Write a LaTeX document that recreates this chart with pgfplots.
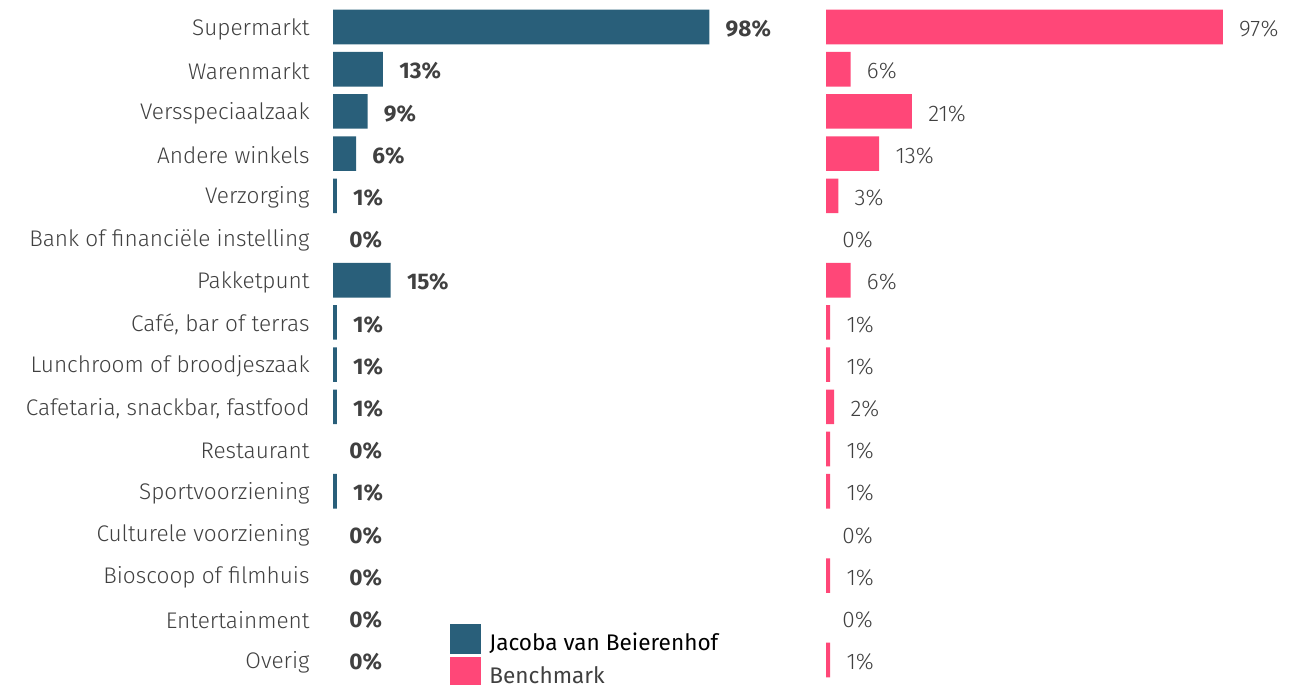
\documentclass[border=0pt]{standalone}
\usepackage{pgfplots}
\pgfplotsset{compat=1.18}
\usepackage{fontspec}
\setmainfont{Fira Sans}
\newfontfamily\lightfont{Fira Sans Light}
\definecolor{cblue}{HTML}{295F7A}
\definecolor{cpink}{HTML}{FF4778}
\definecolor{ctext}{HTML}{404040}
\newcommand{\fs}{\fontsize{11.3}{13}\selectfont}
\begin{document}
\begin{tikzpicture}
\useasboundingbox (0,0) rectangle (646.5pt,342pt);
\pgfplotsset{
  mybar/.style={
    xbar, scale only axis, height=337.6pt,
    ymin=-0.5, ymax=15.5, y dir=reverse, xmin=0, xmax=100,
    hide x axis, y axis line style={draw=none},
    /pgf/number format/assume math mode=true,
    bar width=0.82, clip=false,
  },
  lbl/.style={sharp plot, draw=none, mark=none,
    nodes near coords={\pgfmathprintnumber\pgfplotspointmeta\%},
    every node near coord/.append style={anchor=west, inner sep=0pt, xshift=8pt, yshift=-1pt, text=ctext, font=\fs},
  }
}
\begin{axis}[mybar, at={(166.5pt,1.45pt)}, anchor=south west, width=192pt,
  ytick={0,...,15},
  yticklabels={Supermarkt,Warenmarkt,Versspeciaalzaak,Andere winkels,Verzorging,Bank of financiële instelling,Pakketpunt,{Café, bar of terras},Lunchroom of broodjeszaak,{Cafetaria, snackbar, fastfood},Restaurant,Sportvoorziening,Culturele voorziening,Bioscoop of filmhuis,Entertainment,Overig},
  major tick length=0pt, tick style={draw=none},
  yticklabel style={anchor=east, inner sep=0pt, xshift=-11.5pt, yshift=-1pt, text=ctext, font=\fs\lightfont},
  legend style={at={(axis description cs:0.3047,0.0846)}, anchor=north west, draw=none, fill=none, inner sep=0pt, row sep=1.5pt, column sep=4pt, font=\fs, nodes={inner sep=0pt}},
  legend cell align=left,
  legend image code/.code={\fill[#1] (0pt,-7.5pt) rectangle (15.5pt,7.5pt);},
]
\addplot[fill=cblue, draw=none] coordinates {
(98,0) (13,1) (9,2) (6,3) (1,4) (15,6) (1,7) (1,8) (1,9) (1,11)};
\addlegendentry{\raisebox{-4pt}{Jacoba van Beierenhof}}
\addlegendimage{fill=cpink, draw=none}
\addlegendentry{\raisebox{-4pt}{\textcolor{ctext}{Benchmark}}}
\addplot[lbl, every node near coord/.append style={font=\fs\bfseries}] coordinates {
(98,0) (13,1) (9,2) (6,3) (1,4) (0,5) (15,6) (1,7) (1,8) (1,9) (0,10) (1,11) (0,12) (0,13) (0,14) (0,15)};
\end{axis}
\begin{axis}[mybar, at={(413pt,1.45pt)}, anchor=south west, width=204.5pt, ytick=\empty]
\addplot[fill=cpink, draw=none] coordinates {
(97,0) (6,1) (21,2) (13,3) (3,4) (6,6) (1,7) (1,8) (2,9) (1,10) (1,11) (1,13) (1,15)};
\addplot[lbl, every node near coord/.append style={font=\fs\lightfont}] coordinates {
(97,0) (6,1) (21,2) (13,3) (3,4) (0,5) (6,6) (1,7) (1,8) (2,9) (1,10) (1,11) (0,12) (1,13) (0,14) (1,15)};
\end{axis}
\end{tikzpicture}
\end{document}
